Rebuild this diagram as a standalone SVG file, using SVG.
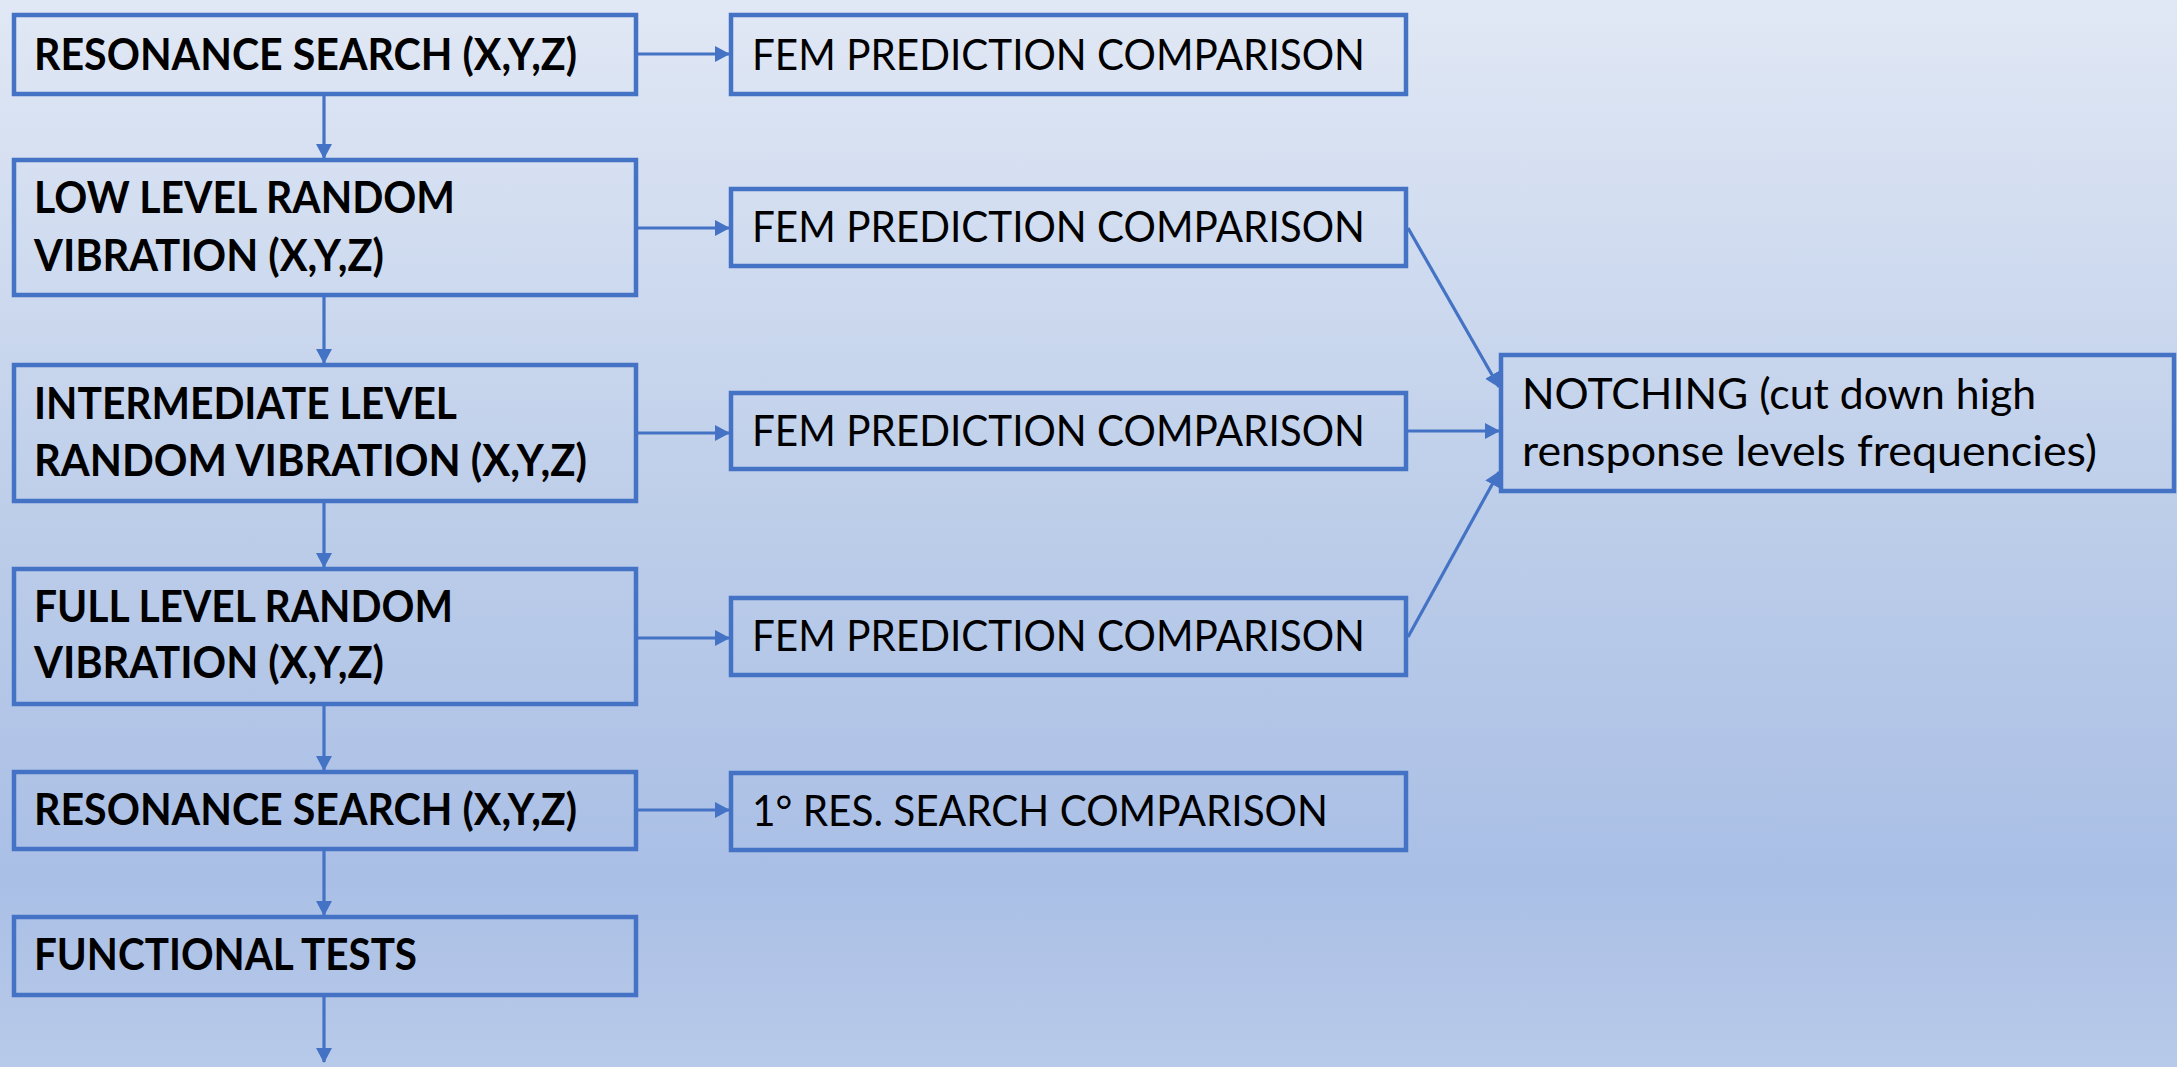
<svg xmlns="http://www.w3.org/2000/svg" width="2177" height="1067" viewBox="0 0 2177 1067">
<defs>
<linearGradient id="bg" x1="0" y1="0" x2="0" y2="1">
<stop offset="0" stop-color="#e1e8f5"/>
<stop offset="0.5" stop-color="#bccde9"/>
<stop offset="0.82" stop-color="#aabfe6"/>
<stop offset="1" stop-color="#b8cae9"/>
</linearGradient>
<marker id="ah" markerUnits="userSpaceOnUse" markerWidth="15" markerHeight="16" refX="14" refY="8" orient="auto">
<path d="M0,0 L15,8 L0,16 z" fill="#4472c4"/>
</marker>
<style>
.box{fill:none;stroke:#4472c4;stroke-width:4.5}
.c{stroke:#4472c4;stroke-width:3.2;fill:none;marker-end:url(#ah)}
.b{font-family:Lato,"Liberation Sans",sans-serif;font-weight:bold;font-size:44px;fill:#000}
.r{font-family:Lato,"Liberation Sans",sans-serif;font-size:43px;fill:#000}
</style>
</defs>
<rect width="2177" height="1067" fill="url(#bg)"/>
<g id="connectors">
<line class="c" x1="324" y1="96" x2="324" y2="158"/>
<line class="c" x1="324" y1="297" x2="324" y2="363"/>
<line class="c" x1="324" y1="503" x2="324" y2="567"/>
<line class="c" x1="324" y1="706" x2="324" y2="770"/>
<line class="c" x1="324" y1="851" x2="324" y2="915"/>
<line class="c" x1="324" y1="997" x2="324" y2="1062"/>
<line class="c" x1="638" y1="54" x2="729" y2="54"/>
<line class="c" x1="638" y1="228" x2="729" y2="228"/>
<line class="c" x1="638" y1="433" x2="729" y2="433"/>
<line class="c" x1="638" y1="638" x2="729" y2="638"/>
<line class="c" x1="638" y1="810" x2="729" y2="810"/>
<line class="c" x1="1408" y1="228" x2="1499" y2="387"/>
<line class="c" x1="1408" y1="431" x2="1499" y2="431"/>
<line class="c" x1="1408" y1="637" x2="1499" y2="472"/>
</g>
<g id="n1"><rect class="box" x="14" y="15" width="622" height="79"/><text class="b" x="34" y="70" textLength="543" lengthAdjust="spacingAndGlyphs">RESONANCE SEARCH (X,Y,Z)</text></g>
<g id="n2"><rect class="box" x="14" y="160" width="622" height="135"/><text class="b" x="34" y="213" textLength="421" lengthAdjust="spacingAndGlyphs">LOW LEVEL RANDOM</text><text class="b" x="34" y="271" textLength="350" lengthAdjust="spacingAndGlyphs">VIBRATION (X,Y,Z)</text></g>
<g id="n3"><rect class="box" x="14" y="365" width="622" height="136"/><text class="b" x="34" y="419" textLength="423" lengthAdjust="spacingAndGlyphs">INTERMEDIATE LEVEL</text><text class="b" x="34" y="476" textLength="553" lengthAdjust="spacingAndGlyphs">RANDOM VIBRATION (X,Y,Z)</text></g>
<g id="n4"><rect class="box" x="14" y="569" width="622" height="135"/><text class="b" x="34" y="622" textLength="419" lengthAdjust="spacingAndGlyphs">FULL LEVEL RANDOM</text><text class="b" x="34" y="678" textLength="350" lengthAdjust="spacingAndGlyphs">VIBRATION (X,Y,Z)</text></g>
<g id="n5"><rect class="box" x="14" y="772" width="622" height="77"/><text class="b" x="34" y="825" textLength="543" lengthAdjust="spacingAndGlyphs">RESONANCE SEARCH (X,Y,Z)</text></g>
<g id="n6"><rect class="box" x="14" y="917" width="622" height="78"/><text class="b" x="34" y="970" textLength="383" lengthAdjust="spacingAndGlyphs">FUNCTIONAL TESTS</text></g>
<g id="f1"><rect class="box" x="731" y="15" width="675" height="79"/><text class="r" x="752" y="70" textLength="613" lengthAdjust="spacingAndGlyphs">FEM PREDICTION COMPARISON</text></g>
<g id="f2"><rect class="box" x="731" y="189" width="675" height="77"/><text class="r" x="752" y="242" textLength="613" lengthAdjust="spacingAndGlyphs">FEM PREDICTION COMPARISON</text></g>
<g id="f3"><rect class="box" x="731" y="393" width="675" height="76"/><text class="r" x="752" y="446" textLength="613" lengthAdjust="spacingAndGlyphs">FEM PREDICTION COMPARISON</text></g>
<g id="f4"><rect class="box" x="731" y="598" width="675" height="77"/><text class="r" x="752" y="651" textLength="613" lengthAdjust="spacingAndGlyphs">FEM PREDICTION COMPARISON</text></g>
<g id="r1"><rect class="box" x="731" y="773" width="675" height="77"/><text class="r" x="752" y="826" textLength="576" lengthAdjust="spacingAndGlyphs">1° RES. SEARCH COMPARISON</text></g>
<g id="notch"><rect class="box" x="1501" y="355" width="673" height="136"/><text class="r" x="1522" y="409" textLength="514" lengthAdjust="spacingAndGlyphs">NOTCHING (cut down high</text><text class="r" x="1522" y="466" textLength="575" lengthAdjust="spacingAndGlyphs">rensponse levels frequencies)</text></g>
</svg>
